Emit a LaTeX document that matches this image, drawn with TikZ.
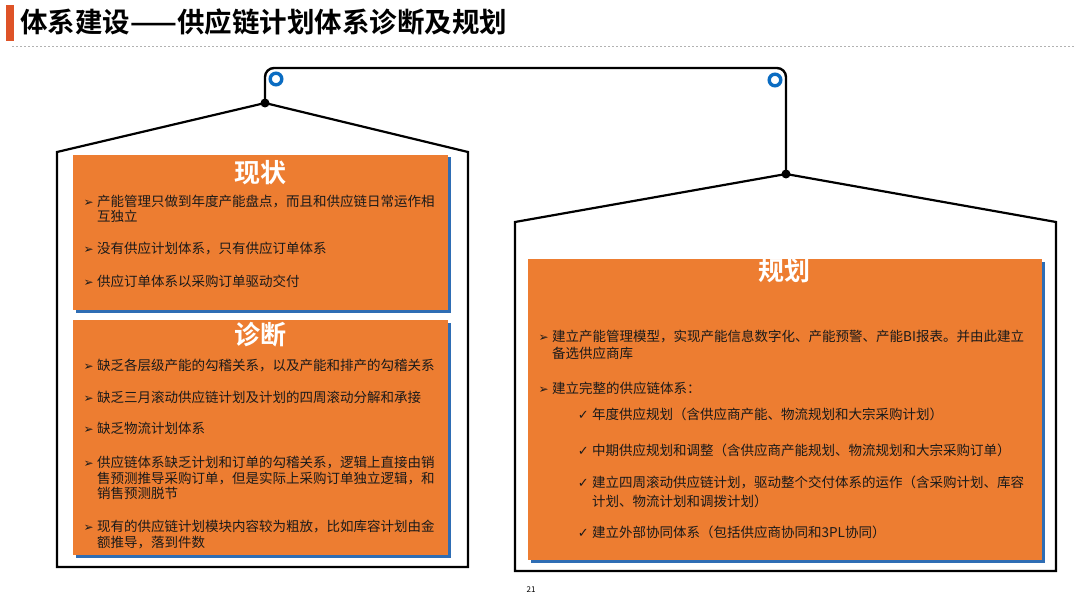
\documentclass[tikz,border=0pt]{standalone}
\usepackage{fontspec}
\setmainfont{Noto Sans CJK SC}[BoldFont={Noto Sans CJK SC Bold}]
\newfontfamily\symfont{DejaVu Sans}
\usetikzlibrary{positioning, shadows}

\definecolor{boxorange}{HTML}{ED7D31}
\definecolor{shadowblue}{HTML}{2E6DB4}
\definecolor{ringblue}{HTML}{0A6CC2}
\definecolor{barred}{HTML}{DE5327}
\definecolor{inktext}{HTML}{1A1A1A}

\tikzset{
  house/.style={line width=2.2pt, line join=miter},
  hanger/.style={line width=2.4pt, rounded corners=9pt},
  ring/.style={draw=ringblue, line width=3.4pt},
  panel/.style={fill=boxorange, inner sep=0pt,
    drop shadow={shadow xshift=2.5pt, shadow yshift=-2.5pt, fill=shadowblue, opacity=1}},
  paneltitle/.style={text=white, inner sep=0pt, font=\bfseries\fontsize{26}{26}\selectfont},
  txt/.style={anchor=base west, inner sep=0pt, text=inktext, font=\fontsize{13.5}{16}\selectfont},
  arrowbul/.style={anchor=base east, inner sep=0pt, text=inktext, font=\symfont\fontsize{12}{12}\selectfont},
  checkbul/.style={anchor=base east, inner sep=0pt, text=inktext, font=\symfont\fontsize{13}{13}\selectfont}
}

\begin{document}
\begin{tikzpicture}[x=1pt, y=-1pt]
  \useasboundingbox[fill=white] (0,0) rectangle (1080,607);

  % heading
  \fill[barred] (6,5) rectangle (14,41);
  \node[anchor=west, inner sep=0pt, font=\bfseries\fontsize{27.5}{27.5}\selectfont] (heading) at (20,22) {体系建设——供应链计划体系诊断及规划};
  \draw[gray!60, line width=1pt, dash pattern=on 2pt off 2pt] (12,46.5) -- (1075,46.5);

  % hanger
  \coordinate (peakL) at (265,103);
  \coordinate (peakR) at (786,174);
  \coordinate (hookL) at (265,68);
  \coordinate (hookR) at (786,68);
  \draw[hanger] (peakL) -- (hookL) -- (hookR) -- (peakR);
  \draw[ring] (276,79) circle[radius=5.8];
  \draw[ring] (775,80) circle[radius=5.8];

  % houses
  \draw[house] (peakL) -- (57,152) -- (57,567) -- (468,567) -- (468,152) -- cycle;
  \draw[house] (peakR) -- (515,222) -- (515,571) -- (1056,571) -- (1056,222) -- cycle;
  \fill (peakL) circle[radius=4.5];
  \fill (peakR) circle[radius=4.5];

  % panels
  \node[panel, minimum width=375, minimum height=155] (nowbox) at (260.5,232.5) {};
  \node[panel, minimum width=375, minimum height=235] (diagbox) at (260.5,437.5) {};
  \node[panel, minimum width=514, minimum height=301] (planbox) at (785,409.5) {};

  \node[paneltitle] (nowtitle) at (260,173) {现状};
  \node[paneltitle] (diagtitle) at (260,335) {诊断};
  \node[paneltitle] (plantitle) at (784,271) {规划};

  % 现状
  \node[txt] (n1) at (97,207) {产能管理只做到年度产能盘点，而且和供应链日常运作相};
  \node[txt] (n1b) at (97,222) {互独立};
  \node[txt] (n2) at (97,254) {没有供应计划体系，只有供应订单体系};
  \node[txt] (n3) at (97,287) {供应订单体系以采购订单驱动交付};
  \foreach \n in {n1,n2,n3}
    \node[arrowbul] at ([xshift=-3pt]\n.base west) {➢};

  % 诊断
  \node[txt] (d1) at (97,370) {缺乏各层级产能的勾稽关系，以及产能和排产的勾稽关系};
  \node[txt] (d2) at (97,402) {缺乏三月滚动供应链计划及计划的四周滚动分解和承接};
  \node[txt] (d3) at (97,433) {缺乏物流计划体系};
  \node[txt] (d4) at (97,467) {供应链体系缺乏计划和订单的勾稽关系，逻辑上直接由销};
  \node[txt] (d4b) at (97,483) {售预测推导采购订单，但是实际上采购订单独立逻辑，和};
  \node[txt] (d4c) at (97,498) {销售预测脱节};
  \node[txt] (d5) at (97,531) {现有的供应链计划模块内容较为粗放，比如库容计划由金};
  \node[txt] (d5b) at (97,547) {额推导，落到件数};
  \foreach \n in {d1,d2,d3,d4,d5}
    \node[arrowbul] at ([xshift=-3pt]\n.base west) {➢};

  % 规划
  \node[txt] (p1) at (552,341) {建立产能管理模型，实现产能信息数字化、产能预警、产能BI报表。并由此建立};
  \node[txt] (p1b) at (552,358) {备选供应商库};
  \node[txt] (p2) at (552,393) {建立完整的供应链体系：};
  \foreach \n in {p1,p2}
    \node[arrowbul] at ([xshift=-3pt]\n.base west) {➢};
  \node[txt] (c1) at (592,419) {年度供应规划（含供应商产能、物流规划和大宗采购计划）};
  \node[txt] (c2) at (592,455) {中期供应规划和调整（含供应商产能规划、物流规划和大宗采购订单）};
  \node[txt] (c3) at (592,487) {建立四周滚动供应链计划，驱动整个交付体系的运作（含采购计划、库容};
  \node[txt] (c3b) at (592,506) {计划、物流计划和调拨计划）};
  \node[txt] (c4) at (592,537) {建立外部协同体系（包括供应商协同和3PL协同）};
  \foreach \n in {c1,c2,c3,c4}
    \node[checkbul] at ([xshift=-3pt]\n.base west) {✓};

  \node[font=\fontsize{8}{8}\selectfont] (pageno) at (531,590) {21};
\end{tikzpicture}
\end{document}
